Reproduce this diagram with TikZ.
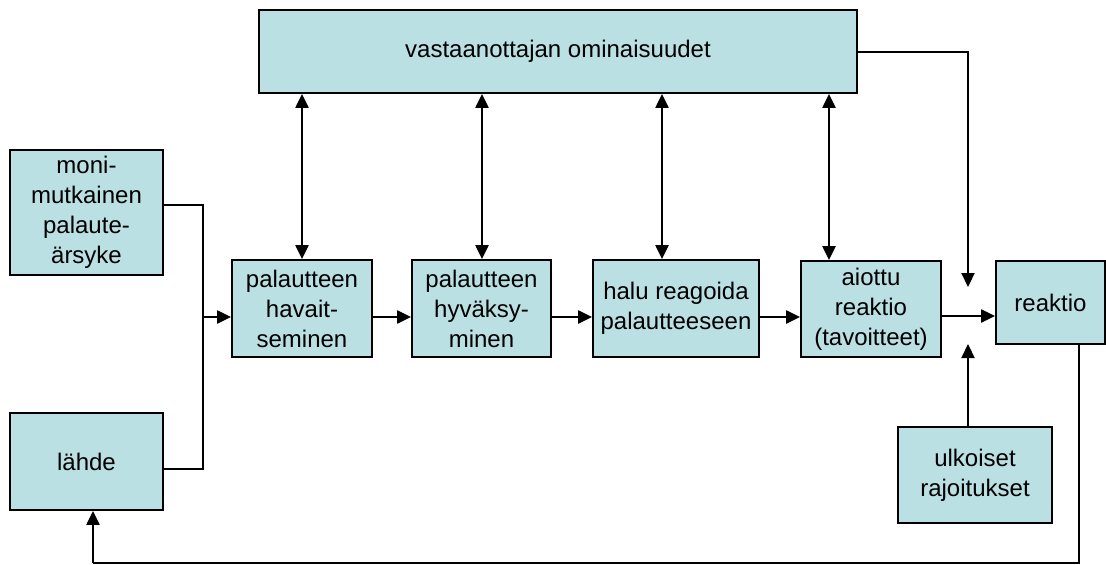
\documentclass[tikz,border=0pt]{standalone}
\usepackage{fontspec}
\setmainfont{Liberation Sans}
\usetikzlibrary{arrows.meta}
\definecolor{boxfill}{RGB}{187,224,227}
\tikzset{
  box/.style={draw=black, line width=1.8pt, fill=boxfill, rectangle, inner sep=0pt,
    align=center, font=\fontsize{24}{30}\selectfont},
  tip/.tip={Triangle[length=14pt,width=13pt]},
  arr/.style={line width=2.2pt, -tip},
  darr/.style={line width=2.2pt, tip-tip},
  link/.style={line width=1.4pt},
}
\begin{document}
\begin{tikzpicture}[x=1pt,y=-1pt]
\useasboundingbox (0,0) rectangle (1106,565);

% boxes
\node[box, minimum width=598pt, minimum height=83pt] (top) at (558,51.5) {vastaanottajan ominaisuudet};
\node[box, minimum width=153pt, minimum height=125pt] (mon) at (86.5,212.5) {moni-\\mutkainen\\palaute-\\ärsyke};
\node[box, minimum width=153pt, minimum height=97pt] (lahde) at (86.5,461.5) {lähde};
\node[box, minimum width=140pt, minimum height=97pt] (hav) at (302,308.5) {palautteen\\havait-\\seminen};
\node[box, minimum width=139pt, minimum height=97pt] (hyv) at (481.5,308.5) {palautteen\\hyväksy-\\minen};
\node[box, minimum width=166pt, minimum height=97pt] (halu) at (676,308.5) {halu reagoida\\palautteeseen};
\node[box, minimum width=140pt, minimum height=96pt] (aio) at (871,309) {aiottu\\reaktio\\(tavoitteet)};
\node[box, minimum width=109pt, minimum height=83pt] (rea) at (1050.5,302.5) {reaktio};
\node[box, minimum width=154pt, minimum height=96pt] (ulk) at (975,475) {ulkoiset\\rajoitukset};

% junction points
\coordinate (jx) at (203,317);
\coordinate (tr) at (968,287);
\coordinate (ur) at (968,344);
\coordinate (fb1) at (1079,563);
\coordinate (fb2) at (93,563);

% inputs merging into the first stage
\draw[link] (mon.east |- 0,205) -| (203,469) -- (lahde.east |- 0,469);
\draw[arr] (jx) -- (hav.west |- jx);

% main chain
\draw[arr] (hav.east |- 0,317) -- (hyv.west |- 0,317);
\draw[arr] (hyv.east |- 0,317) -- (halu.west |- 0,317);
\draw[arr] (halu.east |- 0,317) -- (aio.west |- 0,317);
\draw[arr] (aio.east |- 0,316) -- (rea.west |- 0,316);

% links with the receiver's characteristics
\draw[darr] (top.south -| 302,0) -- (hav.north -| 302,0);
\draw[darr] (top.south -| 482,0) -- (hyv.north -| 482,0);
\draw[darr] (top.south -| 662,0) -- (halu.north -| 662,0);
\draw[darr] (top.south -| 829,0) -- (aio.north -| 829,0);

% influences on the reaction
\draw[link] (top.east |- 0,52) -- (968,52) -- (968,200);
\draw[arr] (968,199) -- (tr);
\draw[arr] (ulk.north -| 968,0) -- (ur);

% feedback loop
\draw[line width=2.2pt] (rea.south -| fb1) -- (fb1) -- (fb2);
\draw[arr] (fb2) -- (lahde.south -| fb2);
\end{tikzpicture}
\end{document}
